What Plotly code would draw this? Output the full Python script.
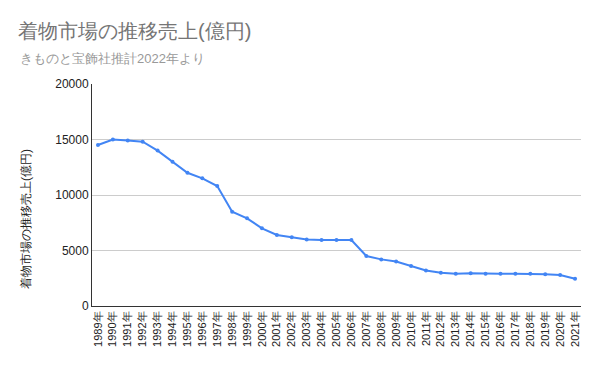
import plotly.graph_objects as go

years = [f"{y}年" for y in range(1989, 2022)]
sales = [14500, 15000, 14900, 14800, 14000, 13000, 12000, 11500, 10800, 8500,
         7900, 7000, 6400, 6200, 6000, 5950, 5950, 5950, 4500, 4200,
         4000, 3600, 3200, 3000, 2900, 2950, 2900, 2900, 2900, 2900,
         2850, 2800, 2450]
y_ticks = [0, 5000, 10000, 15000, 20000]

W, H = 600, 371
L, R, T, B = 92, 19, 84, 65
pw, ph = W - L - R, H - T - B

font = "Arial, Liberation Sans, sans-serif"

fig = go.Figure(go.Scatter(
    x=years, y=sales, mode="lines+markers",
    line=dict(color="#4285F4", width=2),
    marker=dict(color="#4285F4", size=4),
    hoverinfo="skip",
))

fig.update_layout(
    width=W, height=H,
    margin=dict(l=L, r=R, t=T, b=B),
    paper_bgcolor="white", plot_bgcolor="white",
    showlegend=False,
    font=dict(family=font),
    title=dict(text="着物市場の推移売上(億円)", xref="container", yref="container",
               x=18 / W, y=1 - 31 / H, xanchor="left", yanchor="middle",
               font=dict(size=20, color="#757575", family=font)),
    xaxis=dict(type="category", tickangle=-90, showgrid=False,
               showline=True, linecolor="#333", linewidth=1,
               tickfont=dict(size=11, color="#222"), ticks="",
               range=[-0.4, len(years) - 0.6], automargin=False),
    yaxis=dict(range=[0, 20000], tickvals=y_ticks, ticktext=[str(v) for v in y_ticks],
               showgrid=True, gridcolor="#cccccc", gridwidth=1,
               showline=True, linecolor="#333", linewidth=1, zeroline=False,
               tickfont=dict(size=12, color="#222"), ticks="", automargin=False),
    annotations=[
        dict(text="きものと宝飾社推計2022年より", xref="paper", yref="paper",
             x=(18 - L) / pw, y=(H - B - 58) / ph, xanchor="left", yanchor="middle",
             showarrow=False, font=dict(size=13, color="#999999", family=font)),
        dict(text="着物市場の推移売上(億円)", xref="paper", yref="paper",
             x=(26 - L) / pw, y=(H - B - 219) / ph, xanchor="center", yanchor="middle",
             textangle=-90, showarrow=False,
             font=dict(size=12, color="#222", family=font)),
    ],
)

fig.write_html("out.html", config={"displayModeBar": False},
               post_script="document.body.style.margin='0';document.body.style.overflow='hidden';")
